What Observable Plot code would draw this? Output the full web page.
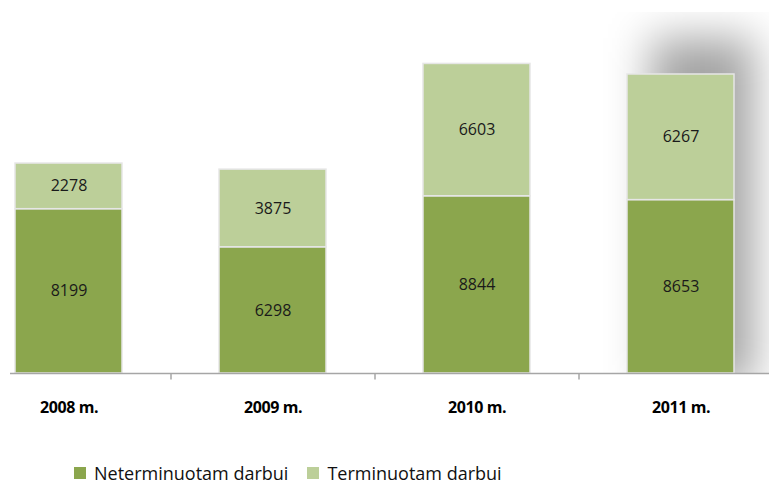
<!DOCTYPE html>
<html>
<head>
<meta charset="utf-8">
<script src="https://cdn.jsdelivr.net/npm/d3@7"></script>
<script src="https://cdn.jsdelivr.net/npm/@observablehq/plot@0.6"></script>
<style>
  html, body { margin: 0; padding: 0; background: #fff; }
  #wrap { position: relative; width: 769px; height: 484px; overflow: hidden; }
  #legend { position: absolute; left: 74px; top: 463px; display: flex; align-items: center;
            font-family: "Open Sans", sans-serif; font-size: 18px; line-height: 20px; color: #111; white-space: nowrap; }
  .sw { width: 12px; height: 12px; display: inline-block; margin-right: 8px; }
  .item { display: flex; align-items: center; margin-right: 19px; }
</style>
</head>
<body>
<div id="wrap">
  <div id="chart"></div>
  <div id="legend"></div>
</div>
<script>
const years = ["2008 m.", "2009 m.", "2010 m.", "2011 m."];
const seriesNames = ["Neterminuotam darbui", "Terminuotam darbui"];
const neterminuotam = [8199, 6298, 8844, 8653];
const terminuotam = [2278, 3875, 6603, 6267];
const colors = ["#8ba64d", "#bccf99"];

const rows = [];
years.forEach((y, i) => rows.push({year: y, series: seriesNames[0], value: neterminuotam[i]}));
years.forEach((y, i) => rows.push({year: y, series: seriesNames[1], value: terminuotam[i]}));

const plot = Plot.plot({
  width: 769,
  height: 455,
  marginLeft: 10,
  marginRight: 0,
  marginTop: 12,
  marginBottom: 82,
  style: {background: "transparent", overflow: "visible"},
  x: {domain: years, range: [-33, 783], paddingInner: 0.475, paddingOuter: 0.2375, label: null},
  y: {domain: [0, 18014], axis: null},
  color: {domain: seriesNames, range: colors},
  marks: [
    // decorative shadow behind last bar (soft wide part)
    Plot.barY([years[3]], {x: d => d, y1: -600, y2: 16717, insetLeft: 24, insetRight: -20,
      fill: "#000", fillOpacity: 0.36, clip: true}),
    // decorative shadow (darker core right of the bar)
    Plot.barY([years[3]], {x: d => d, y1: 8383, y2: 12874, insetLeft: 121, insetRight: -10,
      fill: "#000", fillOpacity: 0.45, clip: true}),
    Plot.barY(rows, Plot.stackY({x: "year", y: "value", fill: "series",
      stroke: "#e6e6e6", strokeWidth: 1.5})),
    Plot.text(rows, Plot.stackY({x: "year", y: "value", text: d => String(d.value),
      fill: "#1a1a1a", fontSize: 16, fontFamily: "Open Sans, sans-serif"})),
    Plot.ruleY([0], {stroke: "#a6a6a6", strokeWidth: 1.5}),
    Plot.ruleX(years.slice(0, 3), {x: d => d, dx: 102, y1: 0, y2: -330, stroke: "#a6a6a6", strokeWidth: 1.5}),
    Plot.axisX({tickSize: 0, tickPadding: 28, fontSize: 16, fontWeight: "bold",
      fontFamily: "Open Sans, sans-serif", fill: "#000", label: null})
  ]
});

// add blur filter to shadow shapes
const ns = "http://www.w3.org/2000/svg";
const defs = document.createElementNS(ns, "defs");
function addBlur(id, sd) {
  const filt = document.createElementNS(ns, "filter");
  filt.setAttribute("id", id);
  filt.setAttribute("filterUnits", "userSpaceOnUse");
  filt.setAttribute("x", "400"); filt.setAttribute("y", "-200");
  filt.setAttribute("width", "600"); filt.setAttribute("height", "800");
  const blur = document.createElementNS(ns, "feGaussianBlur");
  blur.setAttribute("stdDeviation", String(sd));
  filt.appendChild(blur);
  defs.appendChild(filt);
}
addBlur("shadowBlur1", 22);
addBlur("shadowBlur2", 20);
plot.insertBefore(defs, plot.firstChild);
const barGroups = plot.querySelectorAll('g[aria-label="bar"]');
if (barGroups[0]) barGroups[0].querySelectorAll("rect").forEach(r => r.setAttribute("filter", "url(#shadowBlur1)"));
if (barGroups[1]) barGroups[1].querySelectorAll("rect").forEach(r => r.setAttribute("filter", "url(#shadowBlur2)"));
plot.querySelectorAll('g[aria-label="x-axis tick label"] text').forEach(t => t.setAttribute("letter-spacing", "-0.4"));

document.getElementById("chart").appendChild(plot);

const legend = document.getElementById("legend");
seriesNames.forEach((name, i) => {
  const it = document.createElement("div");
  it.className = "item";
  const sw = document.createElement("span");
  sw.className = "sw";
  sw.style.background = colors[i];
  it.appendChild(sw);
  it.appendChild(document.createTextNode(name));
  legend.appendChild(it);
});
</script>
</body>
</html>
